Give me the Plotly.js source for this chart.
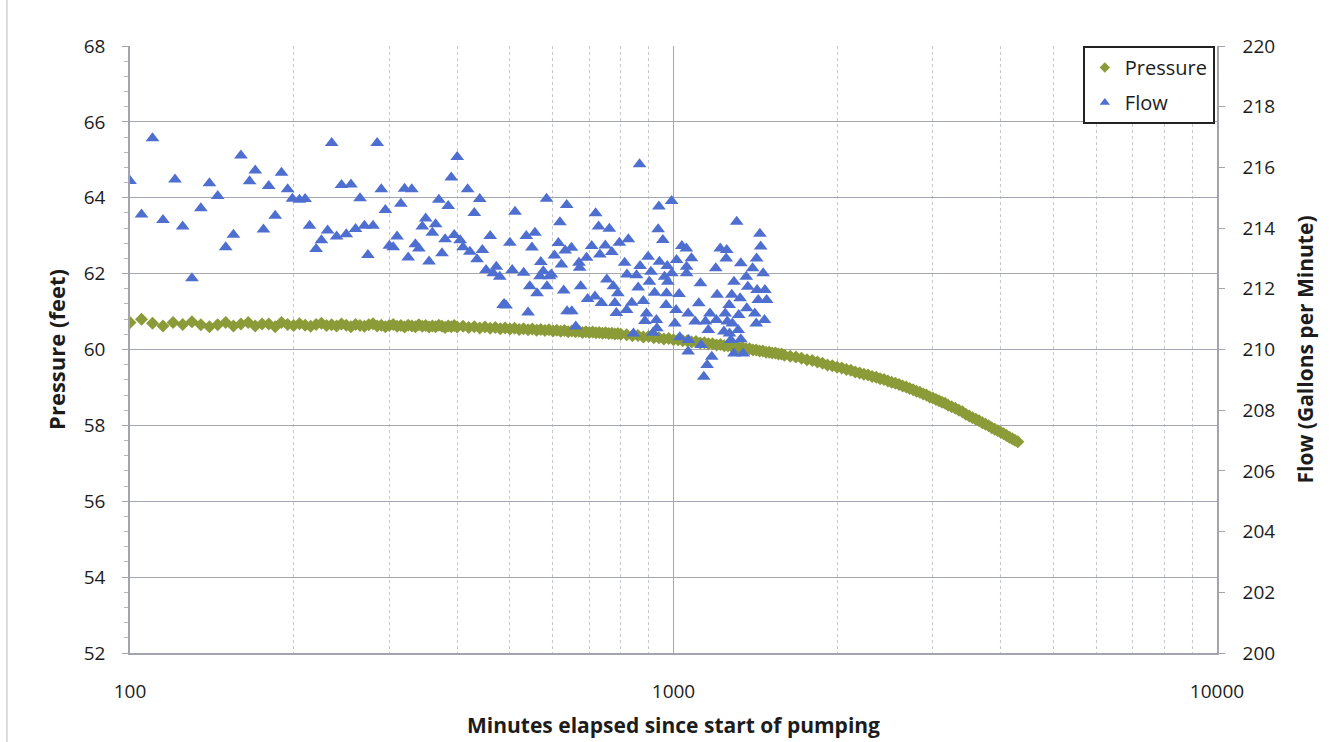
<!DOCTYPE html>
<html>
<head>
<meta charset="utf-8">
<script src="https://cdn.plot.ly/plotly-3.0.1.min.js"></script>
<style>html,body{margin:0;padding:0;background:#fff;}#chart{width:1337px;height:742px;}</style>
</head>
<body>
<div id="chart"></div>
<script>
// ---- Pressure series (minutes, feet) ----
const pressureMinutes = [
100,105,110,115,120,125,130,135,140,145,150,155,160,165,170,175,180,185,190,
195,200,205,210,215,220,225,230,235,240,245,250,255,260,265,270,275,280,285,290,
295,300,305,310,315,320,325,330,335,340,345,350,355,360,365,370,375,380,385,390,395,400,
410,420,430,440,450,460,470,480,490,500,510,520,530,540,550,560,570,580,590,600,
610,620,630,640,650,660,670,680,690,700,710,720,730,740,750,760,770,780,790,800,
820,840,860,880,900,920,940,960,980,1000,1020,1040,1060,1080,1100,1120,1140,1160,1180,1200,
1220,1240,1260,1280,1300,1320,1340,1360,1380,1400,1420,1440,1460,1480,1500,1520,1540,1560,1580,1600,
1640,1680,1720,1760,1800,1840,1880,1920,1960,2000,2040,2080,2120,2160,2200,2240,2280,2320,2360,2400,
2440,2480,2520,2560,2600,2640,2680,2720,2760,2800,2840,2880,2920,2960,3000,3040,3080,3120,3160,3200,
3250,3300,3350,3400,3450,3500,3550,3600,3650,3700,3750,3800,3850,3900,3950,4000,4050,4100,4150,4200,4250,4300
];
const pressureFeet = [
60.71,60.80,60.69,60.62,60.71,60.66,60.73,60.65,60.60,60.65,60.71,60.62,60.67,60.71,60.62,60.67,60.67,60.60,60.71,
60.66,60.63,60.68,60.64,60.61,60.66,60.69,60.63,60.65,60.62,60.67,60.64,60.60,60.66,60.63,60.61,60.65,60.68,60.62,60.64,
60.60,60.63,60.66,60.61,60.63,60.59,60.64,60.62,60.60,60.65,60.61,60.63,60.59,60.62,60.60,60.64,60.61,60.58,60.62,60.60,60.63,60.59,
60.61,60.58,60.60,60.57,60.59,60.56,60.58,60.55,60.57,60.54,60.56,60.53,60.55,60.52,60.54,60.51,60.53,60.50,60.52,60.49,
60.51,60.48,60.50,60.47,60.49,60.47,60.48,60.45,60.47,60.45,60.46,60.44,60.45,60.43,60.44,60.42,60.43,60.41,60.42,60.40,
60.39,60.36,60.37,60.33,60.34,60.31,60.31,60.28,60.29,60.26,60.26,60.23,60.23,60.20,60.21,60.17,60.18,60.15,60.15,60.12,
60.13,60.10,60.10,60.08,60.08,60.05,60.05,60.02,60.02,59.99,59.99,59.96,59.96,59.93,59.93,59.91,59.91,59.88,59.88,59.85,
59.82,59.80,59.77,59.73,59.71,59.67,59.64,59.59,59.57,59.53,59.51,59.47,59.45,59.41,59.38,59.35,59.33,59.29,59.27,59.23,
59.21,59.17,59.14,59.11,59.08,59.04,59.01,58.97,58.94,58.90,58.87,58.83,58.80,58.75,58.72,58.68,58.65,58.61,58.58,58.53,
58.49,58.45,58.40,58.36,58.29,58.25,58.20,58.16,58.12,58.07,58.03,57.99,57.94,57.90,57.86,57.82,57.78,57.73,57.69,57.65,57.61,57.57
];

// ---- Flow series (minutes, gallons per minute) ----
const flowMinutes = [
100,110,105,121,115,125,130,135,140,145,150,155,160,166,170,176,180,185,190,195,
199,205,210,214,220,225,231,240,250,260,274,270,280,235,285,245,255,265,290,295,
300,305,310,315,320,325,330,335,340,345,350,355,360,365,370,375,380,385,390,395,
400,405,410,418,422,430,435,440,445,452,460,466,472,479,500,505,486,511,488,492,
584,636,536,556,549,618,614,632,604,570,530,576,596,622,568,544,561,585,591,628,540,637,
719,728,762,795,707,749,770,732,649,692,670,672,754,775,790,675,695,717,737,650,785,820,661,780,826,813,821,
866,992,940,937,956,1036,898,868,942,974,1013,1057,909,855,963,993,903,976,861,923,971,1024,838,880,969,1011,892,930,1006,886,932,844,917,1027,1064,
1219,1079,1056,1196,1057,1121,1203,1113,1064,1167,1245,1096,1145,1199,1283,1159,1238,1066,1124,1176,1153,1137,
1307,1442,1447,1422,1253,1250,1330,1398,1462,1292,1361,1370,1425,1473,1280,1326,1432,1484,1266,1364,1411,1318,1470,1420,1256,1315,1268,1275,1330,1292,1344
];
const flowGpm = [
215.55,216.96,214.45,215.60,214.27,214.05,212.35,214.65,215.48,215.06,213.37,213.78,216.39,215.54,215.90,213.95,215.39,214.41,215.82,215.28,
214.97,214.93,214.96,214.08,213.31,213.60,213.92,213.72,213.80,213.97,213.11,214.08,214.08,216.80,216.80,215.42,215.44,214.98,215.28,214.60,
213.42,213.37,213.72,214.80,215.30,213.03,215.28,213.47,213.33,214.05,214.32,212.90,213.85,214.13,214.93,213.17,213.63,214.73,215.67,213.77,
216.34,213.60,213.37,215.28,213.22,214.50,212.97,214.96,213.28,212.62,213.74,212.51,212.73,212.40,213.52,212.62,211.47,214.54,211.50,211.45,
214.97,214.76,213.74,213.85,213.36,214.19,213.51,213.26,213.10,212.88,212.53,212.58,212.47,212.80,212.41,212.08,211.85,212.08,212.41,211.94,211.22,211.26,
214.49,214.05,213.98,213.52,213.41,213.43,213.21,213.13,213.35,213.02,212.86,212.69,212.31,212.08,211.85,212.08,211.66,211.75,211.53,211.26,211.20,211.30,210.76,211.53,213.63,212.86,212.47,
216.10,214.89,214.71,213.96,213.61,213.41,213.06,212.75,212.89,212.75,212.95,212.73,212.56,212.45,212.40,212.51,212.23,212.23,212.04,211.87,211.85,211.83,211.54,211.60,211.47,211.30,211.19,210.97,210.86,210.94,210.70,210.53,210.55,210.40,209.93,
213.33,213.01,213.33,212.68,212.51,212.18,211.80,211.52,211.19,211.19,211.19,210.92,210.92,210.97,210.86,210.64,210.59,210.31,210.15,209.76,209.49,209.10,
214.21,213.81,213.39,213.00,213.28,213.00,212.84,212.68,212.51,212.23,212.40,212.07,211.96,211.96,211.80,211.69,211.63,211.63,211.47,211.36,211.19,211.14,210.97,210.86,210.92,210.64,210.53,210.31,210.34,209.87,209.87
];

// ---- Axis ticks ----
const xTickVals = [100, 1000, 10000];
const xTickText = ['100', '1000', '10000'];
const pressureTicks = [52, 54, 56, 58, 60, 62, 64, 66, 68];
const flowTicks = [200, 202, 204, 206, 208, 210, 212, 214, 216, 218, 220];
const seriesNames = ['Pressure', 'Flow'];

const FONT = '"Open Sans", Lato, sans-serif';
const TXT = '#1c1c1c';
const GREEN = '#8b9b38';
const BLUE = '#4f6fd0';

const traces = [
  {
    type: 'scatter', mode: 'markers', name: seriesNames[0], showlegend: false,
    x: pressureMinutes, y: pressureFeet, yaxis: 'y',
    marker: {symbol: 'diamond', size: 10, color: GREEN}
  },
  {
    type: 'scatter', mode: 'markers', name: seriesNames[1], showlegend: false,
    x: flowMinutes, y: flowGpm, yaxis: 'y2',
    marker: {symbol: 'triangle-up', size: 12, color: BLUE}
  },
  // legend-only entries (smaller legend symbols, as in the original)
  {
    type: 'scatter', mode: 'markers', name: seriesNames[0], legendgroup: 'p',
    x: [null], y: [null], yaxis: 'y',
    marker: {symbol: 'diamond', size: 8, color: GREEN}
  },
  {
    type: 'scatter', mode: 'markers', name: seriesNames[1], legendgroup: 'f',
    x: [null], y: [null], yaxis: 'y2',
    marker: {symbol: 'triangle-up', size: 9, color: BLUE}
  }
];

const layout = {
  width: 1337, height: 742,
  margin: {l: 130, r: 120, t: 46, b: 89},
  paper_bgcolor: '#ffffff', plot_bgcolor: '#ffffff',
  font: {family: FONT, color: TXT, size: 19},
  showlegend: true,
  legend: {
    x: 0.998, xanchor: 'right', y: 1.0, yanchor: 'top',
    bgcolor: '#ffffff', bordercolor: '#222222', borderwidth: 2,
    font: {family: FONT, size: 20, color: TXT},
    tracegroupgap: 6
  },
  xaxis: {
    type: 'log', range: [2, 4],
    tickvals: xTickVals, ticktext: xTickText,
    ticks: '', ticklabelstandoff: 20,
    tickfont: {family: FONT, size: 19, color: TXT},
    showgrid: true, gridcolor: '#a4a6b2', gridwidth: 1,
    minor: {showgrid: true, gridcolor: '#c6c8d2', griddash: 'dot', dtick: 'D1', ticks: ''},
    showline: true, linecolor: '#a3a4ad', linewidth: 1.5,
    zeroline: false,
    title: {text: '<b>Minutes elapsed since start of pumping</b>', font: {family: FONT, size: 21, color: TXT}, standoff: 16}
  },
  yaxis: {
    range: [52, 68], tickvals: pressureTicks,
    ticks: 'outside', ticklen: 6, tickcolor: '#a3a4ad',
    minor: {dtick: 0.4, ticks: 'outside', ticklen: 4, tickcolor: '#b5b6be', showgrid: false},
    tickfont: {family: FONT, size: 19, color: TXT},
    ticklabelstandoff: 13,
    showgrid: true, gridcolor: '#a4a6b2', gridwidth: 1,
    showline: true, linecolor: '#a3a4ad', linewidth: 1.5,
    zeroline: false,
    title: {text: '<b>Pressure (feet)</b>', font: {family: FONT, size: 22, color: TXT}, standoff: 12}
  },
  yaxis2: {
    range: [200, 220], tickvals: flowTicks, overlaying: 'y', side: 'right',
    ticks: 'outside', ticklen: 6, tickcolor: '#a3a4ad',
    tickfont: {family: FONT, size: 19, color: TXT},
    ticklabelstandoff: 14,
    showgrid: false,
    showline: true, linecolor: '#a3a4ad', linewidth: 1.5,
    zeroline: false,
    title: {text: '<b>Flow (Gallons per Minute)</b>', font: {family: FONT, size: 21, color: TXT}, standoff: 24}
  },
  shapes: [
    {type: 'line', xref: 'paper', yref: 'paper', x0: -0.1132, x1: -0.1132, y0: -0.15, y1: 1.08,
     line: {color: '#b8b8b8', width: 1}}
  ]
};

Plotly.newPlot('chart', traces, layout, {displayModeBar: false, responsive: false});
</script>
</body>
</html>
